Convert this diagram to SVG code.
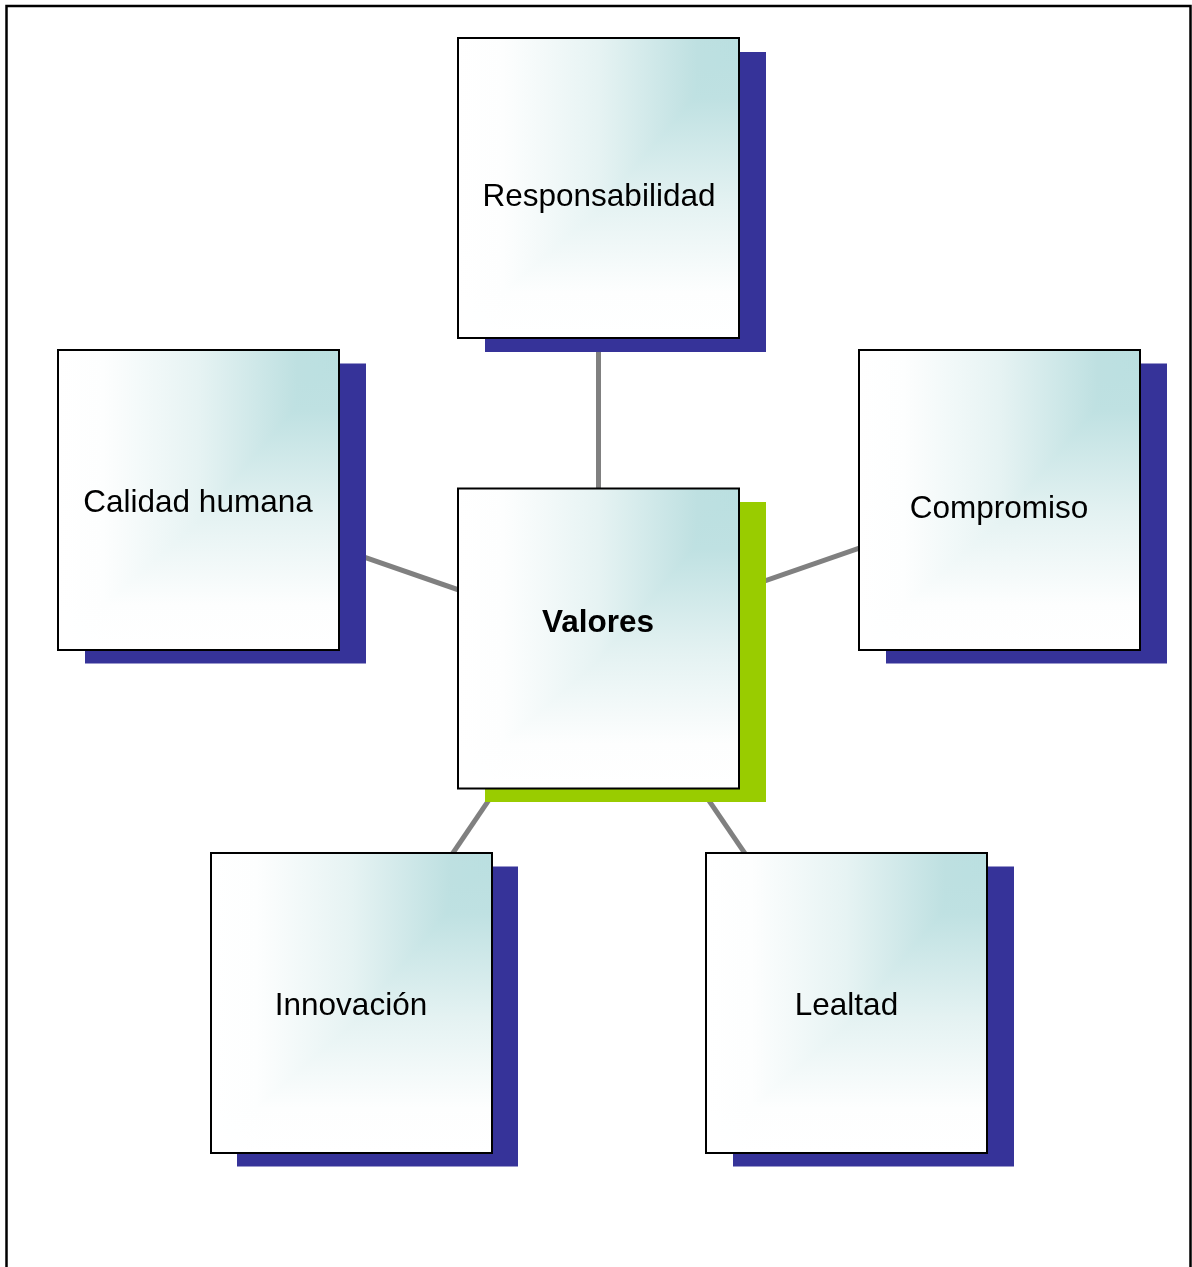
<svg xmlns="http://www.w3.org/2000/svg" width="1192" height="1267" viewBox="0 0 1192 1267">
  <style>
    .frame { fill: none; stroke: #000; stroke-width: 2.5; }
    .link { stroke: #808080; stroke-width: 5; }
    .shadow { fill: #363399; }
    .shadow-main { fill: #99cc00; }
    .face { stroke: none; }
    .fade { stroke: none; mix-blend-mode: lighten; }
    .edge { fill: none; stroke: #000; stroke-width: 2; }
    .node { isolation: isolate; }
    .label { font-family: "Liberation Sans", Arial, sans-serif; font-size: 31.5px; fill: #000; text-anchor: middle; }
    .bold { font-weight: bold; }
  </style>
  <defs>
    <!-- horizontal band: white on the left, teal towards the right edge -->
    <linearGradient id="gH" x1="0" y1="0" x2="1" y2="0">
      <stop offset="0" stop-color="#ffffff"/>
      <stop offset="0.16" stop-color="#fdfefe"/>
      <stop offset="0.5" stop-color="#e6f3f3"/>
      <stop offset="0.85" stop-color="#bee0e1"/>
      <stop offset="1" stop-color="#badfe0"/>
    </linearGradient>
    <!-- vertical band: teal at the top, white towards the bottom -->
    <linearGradient id="gV" x1="0" y1="0" x2="0" y2="1">
      <stop offset="0" stop-color="#badfe0"/>
      <stop offset="0.2" stop-color="#bfe1e2"/>
      <stop offset="0.55" stop-color="#e4f2f2"/>
      <stop offset="0.85" stop-color="#fdfefe"/>
      <stop offset="1" stop-color="#ffffff"/>
    </linearGradient>
  </defs>

  <!-- page frame, open at the bottom -->
  <path class="frame" d="M6.5,1267 V6 H1190.5 V1267"/>

  <!-- connectors, hub centre to each value centre -->
  <g id="connectors">
    <line class="link" x1="598.5" y1="638.5" x2="598.5" y2="188"/>
    <line class="link" x1="598.5" y1="638.5" x2="198.5" y2="499.5"/>
    <line class="link" x1="598.5" y1="638.5" x2="999.5" y2="499.5"/>
    <line class="link" x1="598.5" y1="638.5" x2="351.5" y2="1002.5"/>
    <line class="link" x1="598.5" y1="638.5" x2="846.5" y2="1002.5"/>
  </g>

  <g id="node-responsabilidad" class="node">
    <rect class="shadow" x="485" y="52" width="281" height="300"/>
    <rect class="face" x="458" y="38" width="281" height="300" fill="url(#gH)"/>
    <rect class="fade" x="458" y="38" width="281" height="300" fill="url(#gV)"/>
    <rect class="edge" x="458" y="38" width="281" height="300"/>
    <text class="label" x="599" y="206">Responsabilidad</text>
  </g>

  <g id="node-calidad" class="node">
    <rect class="shadow" x="85" y="363.5" width="281" height="300"/>
    <rect class="face" x="58" y="350" width="281" height="300" fill="url(#gH)"/>
    <rect class="fade" x="58" y="350" width="281" height="300" fill="url(#gV)"/>
    <rect class="edge" x="58" y="350" width="281" height="300"/>
    <text class="label" x="198" y="512">Calidad humana</text>
  </g>

  <g id="node-compromiso" class="node">
    <rect class="shadow" x="886" y="363.5" width="281" height="300"/>
    <rect class="face" x="859" y="350" width="281" height="300" fill="url(#gH)"/>
    <rect class="fade" x="859" y="350" width="281" height="300" fill="url(#gV)"/>
    <rect class="edge" x="859" y="350" width="281" height="300"/>
    <text class="label" x="999" y="518">Compromiso</text>
  </g>

  <g id="node-valores" class="node">
    <rect class="shadow-main" x="485" y="502" width="281" height="300"/>
    <rect class="face" x="458" y="488.5" width="281" height="300" fill="url(#gH)"/>
    <rect class="fade" x="458" y="488.5" width="281" height="300" fill="url(#gV)"/>
    <rect class="edge" x="458" y="488.5" width="281" height="300"/>
    <text class="label bold" x="598" y="632">Valores</text>
  </g>

  <g id="node-innovacion" class="node">
    <rect class="shadow" x="237" y="866.5" width="281" height="300"/>
    <rect class="face" x="211" y="853" width="281" height="300" fill="url(#gH)"/>
    <rect class="fade" x="211" y="853" width="281" height="300" fill="url(#gV)"/>
    <rect class="edge" x="211" y="853" width="281" height="300"/>
    <text class="label" x="351" y="1015">Innovación</text>
  </g>

  <g id="node-lealtad" class="node">
    <rect class="shadow" x="733" y="866.5" width="281" height="300"/>
    <rect class="face" x="706" y="853" width="281" height="300" fill="url(#gH)"/>
    <rect class="fade" x="706" y="853" width="281" height="300" fill="url(#gV)"/>
    <rect class="edge" x="706" y="853" width="281" height="300"/>
    <text class="label" x="846.5" y="1015">Lealtad</text>
  </g>
</svg>
